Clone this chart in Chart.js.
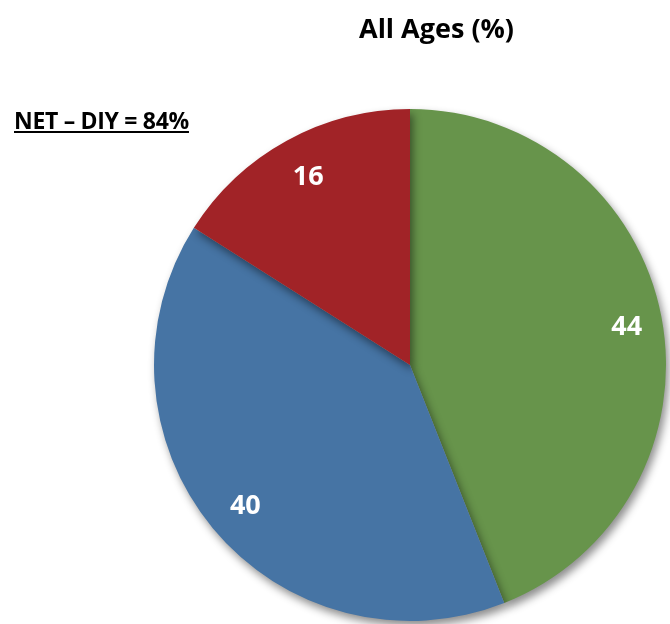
<!DOCTYPE html>
<html>
<head>
<meta charset="utf-8">
<script src="https://cdn.jsdelivr.net/npm/chart.js@4/dist/chart.umd.min.js"></script>
<style>
  html, body { margin: 0; padding: 0; background: #fff; }
  #wrap { position: relative; width: 670px; height: 624px; }
  #title {
    position: absolute; left: 359px; top: 9px;
    font: bold 27px "Open Sans", sans-serif; color: #000; white-space: nowrap;
  }
  #net {
    position: absolute; left: 14px; top: 104px;
    font: bold 23px "Open Sans", sans-serif; color: #000;
    text-decoration: underline; white-space: nowrap; letter-spacing: -0.3px;
  }
</style>
</head>
<body>
<div id="wrap">
  <canvas id="pie" width="670" height="624"></canvas>
  <div id="title">All Ages (%)</div>
  <div id="net">NET – DIY = 84%</div>
</div>
<script>
const labels = ["Green", "Blue", "Red"];
const values = [44, 40, 16];
const colors = ["#67944b", "#4674a4", "#a12327"];

// soft drop shadow under the whole pie
const pieShadow = {
  id: "pieShadow",
  beforeDatasetDraw(chart) {
    const ctx = chart.ctx;
    ctx.save();
    ctx.shadowColor = "rgba(0,0,0,0.45)";
    ctx.shadowBlur = 9;
    ctx.shadowOffsetX = 3;
    ctx.shadowOffsetY = 5;
  },
  afterDatasetDraw(chart) {
    chart.ctx.restore();
  },
};

// value labels inside each slice
const sliceLabels = {
  id: "sliceLabels",
  afterDatasetsDraw(chart) {
    const ctx = chart.ctx;
    const meta = chart.getDatasetMeta(0);
    ctx.save();
    ctx.fillStyle = "#fff";
    ctx.font = "bold 27px 'Open Sans', sans-serif";
    ctx.textAlign = "center";
    ctx.textBaseline = "middle";
    meta.data.forEach((arc, i) => {
      const mid = (arc.startAngle + arc.endAngle) / 2;
      const r = arc.outerRadius * 0.85;
      ctx.fillText(String(values[i]), arc.x + Math.cos(mid) * r + 3, arc.y + Math.sin(mid) * r + 3);
    });
    ctx.restore();
  },
};

new Chart(document.getElementById("pie"), {
  type: "pie",
  data: {
    labels: labels,
    datasets: [{
      data: values,
      backgroundColor: colors,
      borderWidth: 0,
      hoverOffset: 0,
    }],
  },
  options: {
    responsive: false,
    animation: false,
    layout: { padding: { left: 154, top: 109, right: 4, bottom: 3 } },
    plugins: {
      legend: { display: false },
      tooltip: { enabled: false },
    },
  },
  plugins: [pieShadow, sliceLabels],
});
</script>
</body>
</html>
